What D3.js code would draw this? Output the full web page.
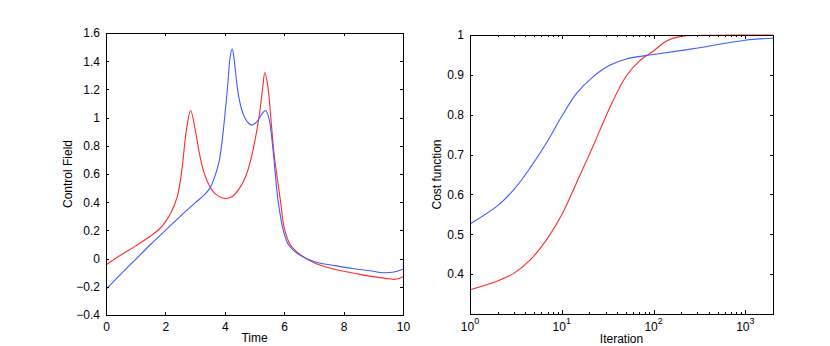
<!DOCTYPE html>
<html>
<head>
<meta charset="utf-8">
<script src="https://cdn.jsdelivr.net/npm/d3@7"></script>
<style>
  body { margin: 0; background: #fff; }
  text { font-family: "Liberation Sans", Arial, Helvetica, sans-serif; font-size: 12px; fill: #000; }
  .frame { fill: none; stroke: #000; stroke-width: 1; shape-rendering: crispEdges; }
  .tick line { stroke: #000; shape-rendering: crispEdges; }
  .curve { fill: none; stroke-width: 1.1; }
</style>
</head>
<body>
<div id="viz"></div>
<script>
var width = 830, height = 346;

// left panel: control field vs time
var timeTicks = [0, 2, 4, 6, 8, 10];
var fieldTicks = [-0.4, -0.2, 0, 0.2, 0.4, 0.6, 0.8, 1, 1.2, 1.4, 1.6];

var redTime  = [0, 0.5, 1, 1.5, 1.8, 2, 2.2, 2.4, 2.55, 2.7, 2.85, 3, 3.15, 3.3, 3.5, 3.7, 4, 4.25, 4.5, 4.7, 4.85, 5, 5.15, 5.27, 5.35, 5.45, 5.55, 5.65, 5.78, 5.88, 6, 6.2, 6.5, 7, 7.5, 8, 8.5, 9, 9.5, 9.75, 10];
var redField = [-0.045, 0.025, 0.09, 0.16, 0.21, 0.26, 0.33, 0.44, 0.62, 0.9, 1.05, 0.92, 0.74, 0.61, 0.51, 0.455, 0.426, 0.44, 0.5, 0.58, 0.68, 0.82, 1.0, 1.2, 1.32, 1.22, 1.0, 0.76, 0.55, 0.4, 0.22, 0.1, 0.035, -0.03, -0.065, -0.09, -0.11, -0.128, -0.143, -0.147, -0.128];

var blueTime  = [0, 0.5, 1, 1.5, 2, 2.5, 3, 3.3, 3.5, 3.66, 3.8, 3.89, 3.97, 4.05, 4.11, 4.18, 4.25, 4.31, 4.43, 4.55, 4.67, 4.8, 4.92, 5.05, 5.18, 5.28, 5.37, 5.48, 5.61, 5.7, 5.8, 5.97, 6.14, 6.42, 7, 7.7, 8.3, 9, 9.3, 9.7, 10];
var blueField = [-0.218, -0.11, -0.005, 0.1, 0.2, 0.3, 0.395, 0.45, 0.5, 0.58, 0.68, 0.8, 0.95, 1.12, 1.26, 1.43, 1.486, 1.42, 1.2, 1.07, 1.0, 0.96, 0.947, 0.965, 1.0, 1.035, 1.05, 1.0, 0.8, 0.6, 0.4, 0.2, 0.1, 0.04, -0.02, -0.05, -0.07, -0.09, -0.1, -0.095, -0.076];

// right panel: cost function vs iteration
var costTicks = [0.4, 0.5, 0.6, 0.7, 0.8, 0.9, 1];
var iterMajor = [1, 10, 100, 1000];

var blueIter = [1, 2, 3, 4.5, 6.8, 10, 14.4, 21.9, 33.2, 50.4, 100, 316, 1000, 2000];
var blueCost = [0.526, 0.572, 0.612, 0.666, 0.729, 0.796, 0.853, 0.895, 0.924, 0.94, 0.951, 0.968, 0.987, 0.992];

var redIter = [1, 2, 3, 4.5, 6.8, 10, 14.4, 21.9, 33.2, 50.4, 70.5, 100, 138, 192, 350, 1000, 2000];
var redCost = [0.361, 0.383, 0.402, 0.435, 0.486, 0.549, 0.628, 0.721, 0.817, 0.897, 0.935, 0.96, 0.985, 0.996, 0.999, 1.0, 1.0];

var blue = "#3f5cff", red = "#ff2a2a";

var svg = d3.select("#viz").append("svg").attr("width", width).attr("height", height);

function zip(xs, ys) { return xs.map(function(x, i) { return [x, ys[i]]; }); }

// ---------- left panel ----------
var L = {left: 106, right: 403, top: 33, bottom: 315};
var x1 = d3.scaleLinear().domain([0, 10]).range([L.left, L.right]);
var y1 = d3.scaleLinear().domain([-0.4, 1.6]).range([L.bottom, L.top]);

var g1 = svg.append("g");
var line1 = d3.line().x(function(d) { return x1(d[0]); }).y(function(d) { return y1(d[1]); }).curve(d3.curveCatmullRom.alpha(0.5));

g1.append("path").attr("class", "curve").attr("stroke", red).attr("d", line1(zip(redTime, redField)));
g1.append("path").attr("class", "curve").attr("stroke", blue).attr("d", line1(zip(blueTime, blueField)));

g1.append("g").attr("transform", "translate(0," + L.bottom + ")")
    .call(d3.axisBottom(x1).tickValues(timeTicks).tickSizeInner(-3).tickSizeOuter(0).tickPadding(7).tickFormat(d3.format("d")))
    .call(function(g) { g.select(".domain").remove(); g.selectAll("text").style("font-size", "12px"); });
g1.append("g").attr("transform", "translate(0," + L.top + ")")
    .call(d3.axisTop(x1).tickValues(timeTicks).tickSizeInner(-3).tickSizeOuter(0).tickFormat(""))
    .call(function(g) { g.select(".domain").remove(); });
g1.append("g").attr("transform", "translate(" + L.left + ",0)")
    .call(d3.axisLeft(y1).tickValues(fieldTicks).tickSizeInner(-3).tickSizeOuter(0).tickPadding(6).tickFormat(function(d) { return d3.format("")(+d.toFixed(1)).replace("-", "\u2212"); }))
    .call(function(g) { g.select(".domain").remove(); g.selectAll("text").style("font-size", "12px"); });
g1.append("g").attr("transform", "translate(" + L.right + ",0)")
    .call(d3.axisRight(y1).tickValues(fieldTicks).tickSizeInner(-3).tickSizeOuter(0).tickFormat(""))
    .call(function(g) { g.select(".domain").remove(); });

g1.append("rect").attr("class", "frame")
    .attr("x", L.left + 0.5).attr("y", L.top + 0.5)
    .attr("width", L.right - L.left).attr("height", L.bottom - L.top);

g1.append("text").attr("x", (L.left + L.right) / 2).attr("y", 342).attr("text-anchor", "middle").text("Time");
g1.append("text").attr("transform", "translate(72," + (L.top + L.bottom) / 2 + ") rotate(-90)")
    .attr("text-anchor", "middle").text("Control Field");

// ---------- right panel ----------
var R = {left: 470, right: 773, top: 35, bottom: 314};
var x2 = d3.scaleLog().domain([1, 2000]).range([R.left, R.right]);
var y2 = d3.scaleLinear().domain([0.3, 1]).range([R.bottom, R.top]);

var g2 = svg.append("g");
var line2 = d3.line().x(function(d) { return x2(d[0]); }).y(function(d) { return y2(d[1]); }).curve(d3.curveCatmullRom.alpha(0.5));

g2.append("path").attr("class", "curve").attr("stroke", red).attr("d", line2(zip(redIter, redCost)));
g2.append("path").attr("class", "curve").attr("stroke", blue).attr("d", line2(zip(blueIter, blueCost)));

var minorTicks = x2.ticks().filter(function(d) { return iterMajor.indexOf(d) < 0 && d <= 2000; });

[["bottom", R.bottom, d3.axisBottom], ["top", R.top, d3.axisTop]].forEach(function(s) {
  g2.append("g").attr("transform", "translate(0," + s[1] + ")")
    .call(s[2](x2).tickValues(iterMajor).tickSizeInner(-4).tickSizeOuter(0).tickFormat(""))
    .call(function(g) { g.select(".domain").remove(); });
  g2.append("g").attr("transform", "translate(0," + s[1] + ")")
    .call(s[2](x2).tickValues(minorTicks).tickSizeInner(-2).tickSizeOuter(0).tickFormat(""))
    .call(function(g) { g.select(".domain").remove(); });
});

// power-of-ten labels
var pow = g2.append("g").selectAll("text").data(iterMajor).enter().append("text")
    .attr("x", function(d) { return x2(d); })
    .attr("y", 331)
    .attr("text-anchor", "middle");
pow.append("tspan").text("10");
pow.append("tspan").attr("dy", -7).style("font-size", "9px").text(function(d) { return Math.round(Math.log10(d)); });

g2.append("g").attr("transform", "translate(" + R.left + ",0)")
    .call(d3.axisLeft(y2).tickValues(costTicks).tickSizeInner(-3).tickSizeOuter(0).tickPadding(6).tickFormat(function(d) { return d3.format("")(+d.toFixed(1)); }))
    .call(function(g) { g.select(".domain").remove(); g.selectAll("text").style("font-size", "12px"); });
g2.append("g").attr("transform", "translate(" + R.right + ",0)")
    .call(d3.axisRight(y2).tickValues(costTicks).tickSizeInner(-3).tickSizeOuter(0).tickFormat(""))
    .call(function(g) { g.select(".domain").remove(); });

g2.append("rect").attr("class", "frame")
    .attr("x", R.left + 0.5).attr("y", R.top + 0.5)
    .attr("width", R.right - R.left).attr("height", R.bottom - R.top);

g2.append("text").attr("x", (R.left + R.right) / 2).attr("y", 343).attr("text-anchor", "middle").text("Iteration");
g2.append("text").attr("transform", "translate(441," + (R.top + R.bottom) / 2 + ") rotate(-90)")
    .attr("text-anchor", "middle").text("Cost function");
</script>
</body>
</html>
